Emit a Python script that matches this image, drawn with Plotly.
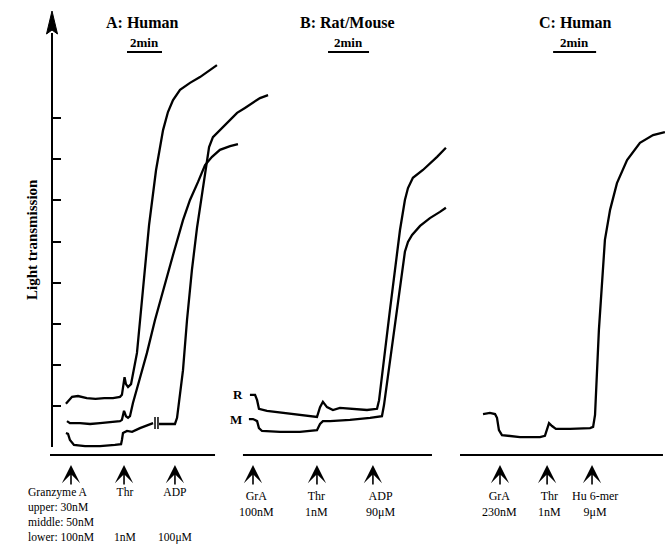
import plotly.graph_objects as go

# ---------------- data (time in minutes from GrA addition, light transmission in arbitrary units) ----
# Panel A: Human
a_upper_t = [-0.29, -0.11, 0.06, 0.4, 0.9, 1.4, 1.9, 2.4, 2.8, 2.91, 3.0, 3.06, 3.14, 3.26, 3.43, 3.77, 4.11, 4.46, 4.86, 5.26, 5.54, 5.83, 6.23, 6.8, 7.37, 7.94, 8.34]
a_upper_y = [1.05, 1.14, 1.22, 1.24, 1.19, 1.17, 1.19, 1.19, 1.22, 1.27, 1.48, 1.70, 1.53, 1.46, 1.53, 2.29, 3.82, 5.40, 6.74, 7.71, 8.15, 8.44, 8.69, 8.86, 9.00, 9.17, 9.29]

a_middle_t = [-0.23, -0.06, 0.51, 1.09, 1.66, 2.23, 2.8, 2.91, 3.03, 3.14, 3.26, 3.37, 3.54, 3.94, 4.34, 4.8, 5.26, 5.83, 6.4, 6.8, 7.26, 7.66, 8.06, 8.51, 9.09, 9.54]
a_middle_y = [0.63, 0.58, 0.58, 0.56, 0.58, 0.61, 0.63, 0.66, 0.88, 0.75, 0.71, 0.75, 1.07, 1.68, 2.29, 3.09, 3.82, 4.67, 5.52, 6.01, 6.45, 6.86, 7.06, 7.23, 7.32, 7.37]

a_lower_t = [-0.29, -0.17, -0.06, 0.17, 0.8, 1.66, 2.51, 2.86, 2.91, 2.97, 3.2, 3.49, 3.94, 4.4, 4.69, None, 5.03, 5.94, 6.06, 6.4, 6.63, 6.91, 7.2, 7.43, 7.66, 7.89, 8.11, 8.51, 8.97, 9.49, 9.94, 10.4, 10.8, 11.26]
a_lower_y = [0.34, 0.32, 0.17, 0.05, 0.02, 0.02, 0.05, 0.07, 0.17, 0.34, 0.39, 0.37, 0.46, 0.54, 0.58, None, 0.56, 0.56, 0.71, 1.87, 3.09, 4.31, 5.33, 6.01, 6.74, 7.30, 7.54, 7.71, 7.93, 8.13, 8.25, 8.39, 8.49, 8.56]

# chart-break marks on the lower trace
a_break_t = [4.8, 4.8, None, 4.97, 4.97]
a_break_y = [0.73, 0.44, None, 0.73, 0.44]

# Panel B: Rat (R) / Mouse (M)
b_rat_t = [-0.15, 0.1, 0.2, 0.29, 0.68, 1.46, 2.29, 3.12, 3.27, 3.41, 3.61, 3.9, 4.24, 4.73, 5.56, 6.05, 6.15, 6.68, 7.17, 7.41, 7.56, 7.8, 8.29, 8.98, 9.41]
b_rat_y = [1.27, 1.27, 1.14, 0.93, 0.88, 0.83, 0.78, 0.73, 0.97, 1.10, 0.97, 0.90, 0.95, 0.93, 0.90, 0.93, 1.14, 3.33, 5.28, 6.01, 6.30, 6.55, 6.74, 7.06, 7.28]

b_mouse_t = [-0.2, 0.0, 0.2, 0.29, 0.44, 1.32, 2.29, 3.02, 3.12, 3.27, 3.41, 3.76, 4.73, 5.71, 6.29, 6.39, 6.93, 7.41, 7.56, 7.76, 8.15, 8.63, 9.12, 9.41]
b_mouse_y = [0.68, 0.68, 0.63, 0.46, 0.39, 0.37, 0.37, 0.39, 0.41, 0.56, 0.63, 0.63, 0.66, 0.71, 0.75, 1.02, 2.97, 4.75, 4.99, 5.16, 5.38, 5.57, 5.72, 5.82]

# Panel C: Human
c_t = [-0.79, -0.47, -0.23, -0.14, -0.05, 0.09, 0.93, 1.86, 2.09, 2.19, 2.28, 2.42, 2.6, 3.26, 4.19, 4.33, 4.42, 4.6, 4.88, 5.12, 5.44, 5.91, 6.51, 7.12, 7.67]
c_y = [0.80, 0.83, 0.80, 0.71, 0.41, 0.29, 0.24, 0.24, 0.27, 0.41, 0.58, 0.51, 0.44, 0.44, 0.46, 0.49, 0.78, 2.85, 5.04, 5.77, 6.42, 6.98, 7.40, 7.59, 7.66]

# agonist addition times (minutes)
a_add_t = [0.0, 3.03, 5.94]
b_add_t = [0.0, 3.12, 5.85]
c_add_t = [0.0, 2.19, 4.28]

y_ticks = [0, 1, 2, 3, 4, 5, 6, 7, 8]

# ---------------- figure ----------------
SERIF = "Liberation Serif"
LW = 2.3
fig = go.Figure()

def line(x, y, ax, width=LW):
    fig.add_trace(go.Scatter(x=x, y=y, mode="lines", xaxis=ax, yaxis="y",
                             line=dict(color="black", width=width, shape="linear"),
                             connectgaps=False, showlegend=False, hoverinfo="skip"))

line(a_upper_t, a_upper_y, "x")
line(a_middle_t, a_middle_y, "x")
line(a_lower_t, a_lower_y, "x")
line(a_break_t, a_break_y, "x", width=1.5)
line(b_rat_t, b_rat_y, "x2")
line(b_mouse_t, b_mouse_y, "x2")
line(c_t, c_y, "x3")

# dummy trace to instantiate the decorative y axis
fig.add_trace(go.Scatter(x=[None], y=[None], xaxis="x", yaxis="y2", showlegend=False, hoverinfo="skip"))

W, H = 665, 545
Y_PX0, Y_PX_PER = 447, 41.1          # pixel of y=0, pixels per unit
yr = [-(H - Y_PX0) / Y_PX_PER, Y_PX0 / Y_PX_PER]

panels = {  # origin pixel, px per minute
    "xaxis": (71, 17.5),
    "xaxis2": (253, 20.5),
    "xaxis3": (500, 21.5),
}
layout_axes = {}
for name, (o, s) in panels.items():
    layout_axes[name] = dict(domain=[0, 1], range=[-o / s, (W - o) / s], visible=False,
                             anchor="y", fixedrange=True)

fig.update_layout(
    width=W, height=H, margin=dict(l=0, r=0, t=0, b=0),
    paper_bgcolor="white", plot_bgcolor="rgba(0,0,0,0)",
    yaxis=dict(domain=[0, 1], range=yr, visible=False, fixedrange=True),
    yaxis2=dict(domain=[1 - 447 / H, 1 - 33 / H], range=[0, (447 - 33) / Y_PX_PER],
                anchor="free", position=52 / W, showline=True, linecolor="black", linewidth=2,
                ticks="inside", ticklen=8, tickwidth=2, tickcolor="black", fixedrange=True,
                tickvals=y_ticks, showticklabels=False, showgrid=False, zeroline=False),
    **layout_axes,
)

annotations = []
shapes = []

def txt(x, y, s, xref, size=12, bold=False, xanchor="center", yanchor="middle", align="center"):
    annotations.append(dict(x=x, y=y, xref=xref, yref="y", text=f"<b>{s}</b>" if bold else s,
                            showarrow=False, xanchor=xanchor, yanchor=yanchor, align=align,
                            borderpad=0, font=dict(family=SERIF, size=size, color="black")))

def arrows(times, xref):
    for t in times:
        annotations.append(dict(x=t, y=-0.44, xref=xref, yref="y", text="", showarrow=True,
                                ax=0, ay=21, arrowhead=3, arrowsize=1.9, arrowwidth=1.6,
                                arrowcolor="black", standoff=0))

# baselines under each panel
for xref, (x0, x1) in [("x", (-1.2, 8.23)), ("x2", (-0.49, 8.73)), ("x3", (-1.86, 7.58))]:
    shapes.append(dict(type="line", xref=xref, yref="y", x0=x0, x1=x1, y0=-0.195, y1=-0.195,
                       line=dict(color="black", width=2)))

# 2 min scale bars
for xref, start in [("x", 3.2), ("x2", 3.66), ("x3", 2.47)]:
    shapes.append(dict(type="line", xref=xref, yref="y", x0=start, x1=start + 2, y0=9.61, y1=9.61,
                       line=dict(color="black", width=2)))
    txt(start + 1, 9.84, "2min", xref, size=13, bold=True)

# axis arrowhead
shapes.append(dict(type="path", xref="paper", yref="paper",
                   path=f"M {52/W},{1-11/H} L {46.5/W},{1-34/H} L {52/W},{1-30/H} L {57.5/W},{1-34/H} Z",
                   fillcolor="black", line=dict(color="black", width=1)))

# titles
txt(4.11, 10.34, "A: Human", "x", size=16, bold=True)
txt(4.63, 10.34, "B: Rat/Mouse", "x2", size=16, bold=True)
txt(3.49, 10.34, "C: Human", "x3", size=16, bold=True)

# y-axis title
annotations.append(dict(x=22 / W, y=1 - 240 / H, xref="paper", yref="paper", text="<b>Light transmission</b>",
                        textangle=-90, showarrow=False, font=dict(family=SERIF, size=15, color="black")))

# R / M labels
txt(-0.73, 1.27, "R", "x2", size=13, bold=True)
txt(-0.83, 0.68, "M", "x2", size=13, bold=True)

# arrows
arrows(a_add_t, "x")
arrows(b_add_t, "x2")
arrows(c_add_t, "x3")

# agonist labels
top_a = -0.92
txt(-2.51, top_a, "Granzyme A<br>upper: 30nM<br>middle: 50nM<br>lower: 100nM", "x",
    size=11.6, xanchor="left", yanchor="top", align="left")
txt(3.09, top_a, "Thr<br> <br> <br>1nM", "x", size=11.6, yanchor="top")
txt(5.95, top_a, "ADP<br> <br> <br>100μM", "x", size=11.6, yanchor="top")

top = -1.0
txt(0.17, top, "GrA<br>100nM", "x2", yanchor="top")
txt(3.12, top, "Thr<br>1nM", "x2", yanchor="top")
txt(6.22, top, "ADP<br>90μM", "x2", yanchor="top")

txt(-0.02, top, "GrA<br>230nM", "x3", yanchor="top")
txt(2.28, top, "Thr<br>1nM", "x3", yanchor="top")
txt(4.44, top, "Hu 6-mer<br>9μM", "x3", yanchor="top")

fig.update_layout(annotations=annotations, shapes=shapes)
fig.write_html("out.html", config={"displayModeBar": False},
               post_script="document.body.style.margin='0';document.body.style.overflow='hidden';")
